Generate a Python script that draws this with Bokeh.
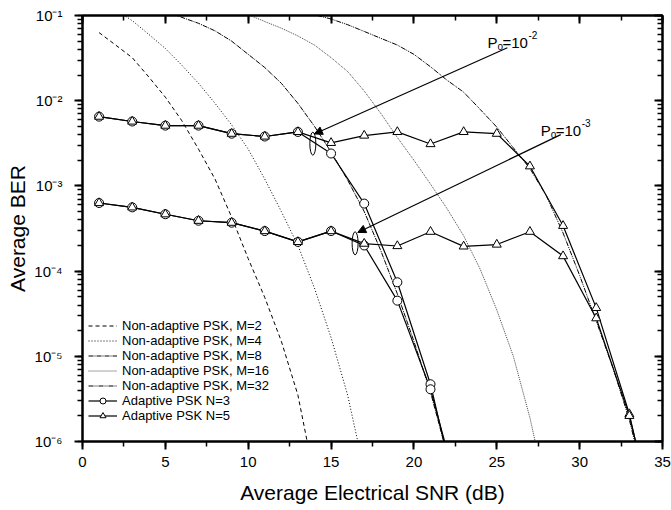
from bokeh.plotting import figure
from bokeh.models import (LinearAxis, LogAxis, SingleIntervalTicker, LogTicker, Legend,
                          LegendItem, Label, Arrow, NormalHead, Range1d, CustomJSTickFormatter,
                          Title)
from bokeh.embed import file_html
from bokeh.resources import INLINE

FONT = "Liberation Sans"

# ---------------- data ----------------
# Non-adaptive PSK curves
m2_snr = [1, 2, 3, 4, 5, 6, 7, 8, 9, 10, 11, 12, 13, 14]
m2_ber = [6.3e-2, 4.5e-2, 3.2e-2, 1.9e-2, 1.1e-2, 5.8e-3, 2.7e-3, 1.2e-3, 4.3e-4,
          1.4e-4, 4.9e-5, 1.5e-5, 3.5e-6, 3.7e-7]

m4_snr = [2, 3, 4, 5, 6, 7, 8, 9, 10, 11, 12, 13, 14, 15, 16, 17]
m4_ber = [1.17e-1, 8.7e-2, 6.0e-2, 4.1e-2, 2.6e-2, 1.6e-2, 9.3e-3, 5.2e-3, 2.7e-3,
          1.2e-3, 5.0e-4, 2.0e-4, 6.3e-5, 1.66e-5, 3.5e-6, 4.5e-7]

m8_snr = [5, 6, 7, 8, 9, 10, 11, 12, 13, 14, 15, 16, 17, 18, 19, 20, 21, 22]
m8_ber = [1.12e-1, 9.5e-2, 8.1e-2, 6.6e-2, 5.0e-2, 3.5e-2, 2.45e-2, 1.6e-2, 9.3e-3,
          5.0e-3, 2.5e-3, 1.17e-3, 5.0e-4, 1.74e-4, 5.4e-5, 1.5e-5, 3.8e-6, 7.1e-7]

m16_snr = [9, 10, 11, 12, 13, 14, 15, 16, 17, 18, 19, 20, 21, 22, 23, 24, 25, 26, 27, 28]
m16_ber = [1.17e-1, 1.02e-1, 8.5e-2, 7.1e-2, 5.75e-2, 4.5e-2, 3.2e-2, 2.2e-2, 1.3e-2,
           7.1e-3, 3.7e-3, 2.0e-3, 1.05e-3, 5.4e-4, 2.6e-4, 1.05e-4, 3.5e-5, 1.0e-5,
           1.9e-6, 2.5e-7]

m32_snr = [13, 14, 15, 16, 17, 18, 19, 20, 21, 22, 23, 24, 25, 26, 27, 28, 29, 30,
           31, 32, 33, 34]
m32_ber = [1.17e-1, 1.02e-1, 9.1e-2, 7.8e-2, 6.5e-2, 5.4e-2, 4.5e-2, 3.5e-2, 2.5e-2,
           1.74e-2, 1.26e-2, 7.9e-3, 4.9e-3, 2.8e-3, 1.6e-3, 7.6e-4, 2.8e-4, 8.9e-5,
           2.6e-5, 7.4e-6, 1.8e-6, 2.8e-7]

# Adaptive PSK, N=3
n3_snr = [1, 3, 5, 7, 9, 11, 13, 15, 17, 19, 21, 23]
n3_po2_ber = [6.5e-3, 5.7e-3, 5.1e-3, 5.1e-3, 4.1e-3, 3.8e-3, 4.3e-3, 2.4e-3, 6.2e-4,
              7.4e-5, 4.7e-6, 1.0e-7]
n3_po3_ber = [6.3e-4, 5.6e-4, 4.65e-4, 3.9e-4, 3.7e-4, 2.95e-4, 2.2e-4, 2.95e-4, 2.0e-4,
              4.5e-5, 4.1e-6, 1.5e-7]

# Adaptive PSK, N=5
n5_snr = [1, 3, 5, 7, 9, 11, 13, 15, 17, 19, 21, 23, 25, 27, 29, 31, 33, 35]
n5_po2_ber = [6.5e-3, 5.7e-3, 5.1e-3, 5.1e-3, 4.1e-3, 3.8e-3, 4.3e-3, 3.2e-3, 3.9e-3,
              4.3e-3, 3.1e-3, 4.3e-3, 4.1e-3, 1.7e-3, 3.4e-4, 3.7e-5, 2.1e-6, 4.0e-8]
n5_po3_ber = [6.3e-4, 5.6e-4, 4.65e-4, 3.9e-4, 3.7e-4, 2.95e-4, 2.2e-4, 2.95e-4, 2.1e-4,
              1.97e-4, 2.9e-4, 1.95e-4, 2.05e-4, 2.9e-4, 1.5e-4, 2.8e-5, 2.0e-6, 5.0e-8]

legend_labels = ["Non-adaptive PSK, M=2", "Non-adaptive PSK, M=4", "Non-adaptive PSK, M=8",
                 "Non-adaptive PSK, M=16", "Non-adaptive PSK, M=32",
                 "Adaptive PSK N=3", "Adaptive PSK N=5"]

x_title = "Average Electrical SNR (dB)"
y_title = "Average BER"

# annotations: ellipses, arrows, P_o labels
ell_x = [13.9, 16.45]
ell_y = [3.13e-3, 2.12e-4]
arrow_x_start = [25.64, 28.86]
arrow_y_start = [4.18e-2, 4.0e-3]
arrow_x_end = [13.99, 16.61]
arrow_y_end = [4.07e-3, 2.84e-4]
po_x = [24.44, 27.65]
po_y = [4.87e-2, 4.53e-3]
po_exp = ["-2", "-3"]

X_MIN, X_MAX = 0, 35
Y_MIN, Y_MAX = 1e-6, 1e-1

# ---------------- figure ----------------
p = figure(width=671, height=510, x_range=Range1d(X_MIN, X_MAX), y_range=Range1d(Y_MIN, Y_MAX),
           y_axis_type="log", output_backend="svg", toolbar_location=None,
           min_border_left=81, min_border_right=9, min_border_top=15, min_border_bottom=69)
p.grid.visible = False
p.outline_line_color = "black"
p.outline_line_width = 2
p.background_fill_color = "white"

blank = CustomJSTickFormatter(code="return ''")
pow10 = CustomJSTickFormatter(code="""
    const sup = {'-': '\u207b', '0': '\u2070', '1': '\u00b9', '2': '\u00b2', '3': '\u00b3',
                 '4': '\u2074', '5': '\u2075', '6': '\u2076', '7': '\u2077', '8': '\u2078',
                 '9': '\u2079'};
    const e = String(Math.round(Math.log10(tick)));
    return '10' + e.split('').map(c => sup[c]).join('');
""")


def style_axis(ax, inside):
    ax.axis_line_color = "black"
    ax.axis_line_width = 2
    ax.major_tick_line_color = "black"
    ax.major_tick_line_width = 2
    ax.minor_tick_line_color = "black"
    ax.minor_tick_line_width = 1.5
    if inside:
        ax.major_tick_in, ax.major_tick_out = 8, 0
        ax.minor_tick_in, ax.minor_tick_out = 5, 0
    else:
        ax.major_tick_in, ax.major_tick_out = 0, 8
        ax.minor_tick_in, ax.minor_tick_out = 0, 5


xa = p.xaxis[0]
xa.ticker = SingleIntervalTicker(interval=5, num_minor_ticks=2)
style_axis(xa, False)
xa.major_label_text_font = FONT
xa.major_label_text_font_size = "15px"
xa.major_label_text_color = "black"
xa.major_label_standoff = 7
xa.axis_label = x_title
xa.axis_label_text_font = FONT
xa.axis_label_text_font_size = "21px"
xa.axis_label_text_font_style = "normal"
xa.axis_label_text_color = "black"
xa.axis_label_standoff = 11

ya = p.yaxis[0]
ya.ticker = LogTicker(num_minor_ticks=10)
style_axis(ya, False)
ya.formatter = pow10
ya.major_label_text_font = FONT
ya.major_label_text_font_size = "15px"
ya.major_label_text_color = "black"
ya.major_label_standoff = 12

top = LinearAxis(ticker=SingleIntervalTicker(interval=5, num_minor_ticks=2), formatter=blank,
                 major_label_standoff=0)
style_axis(top, True)
p.add_layout(top, "above")

right = LogAxis(ticker=LogTicker(num_minor_ticks=10), formatter=blank, major_label_standoff=0)
style_axis(right, True)
p.add_layout(right, "right")

ytitle = Title(text=y_title, text_font=FONT, text_font_size="21px", text_font_style="normal",
               text_color="black", align="center", offset=20, standoff=6)
p.add_layout(ytitle, "left")

# ---------------- curves ----------------
r_m2 = p.line(m2_snr, m2_ber, line_color="black", line_width=1, line_dash="4 3")
r_m4 = p.line(m4_snr, m4_ber, line_color="black", line_width=1, line_dash="1 2")
r_m8 = p.line(m8_snr, m8_ber, line_color="black", line_width=1, line_dash="5 1 1 1")
r_m16 = p.line(m16_snr, m16_ber, line_color="#444444", line_width=1, line_dash="1 1")
r_m32 = p.line(m32_snr, m32_ber, line_color="black", line_width=1, line_dash="5 1 1 1 1 1")

r_n3a = p.line(n3_snr, n3_po2_ber, line_color="black", line_width=1.2)
r_n3b = p.line(n3_snr, n3_po3_ber, line_color="black", line_width=1.2)
r_n5a = p.line(n5_snr, n5_po2_ber, line_color="black", line_width=1.2)
r_n5b = p.line(n5_snr, n5_po3_ber, line_color="black", line_width=1.2)

s_n3a = p.scatter(n3_snr, n3_po2_ber, marker="circle", size=9, fill_color="white",
                  line_color="black", line_width=1)
s_n3b = p.scatter(n3_snr, n3_po3_ber, marker="circle", size=9, fill_color="white",
                  line_color="black", line_width=1)
s_n5a = p.scatter(n5_snr, n5_po2_ber, marker="triangle", size=9, fill_color="white",
                  line_color="black", line_width=1)
s_n5b = p.scatter(n5_snr, n5_po3_ber, marker="triangle", size=9, fill_color="white",
                  line_color="black", line_width=1)

# ---------------- legend ----------------
legend = Legend(items=[
    LegendItem(label=legend_labels[0], renderers=[r_m2]),
    LegendItem(label=legend_labels[1], renderers=[r_m4]),
    LegendItem(label=legend_labels[2], renderers=[r_m8]),
    LegendItem(label=legend_labels[3], renderers=[r_m16]),
    LegendItem(label=legend_labels[4], renderers=[r_m32]),
    LegendItem(label=legend_labels[5], renderers=[r_n3a, s_n3a]),
    LegendItem(label=legend_labels[6], renderers=[r_n5a, s_n5a]),
], location=(6, 18), orientation="vertical")
legend.label_text_font = FONT
legend.label_text_font_size = "13px"
legend.label_text_color = "black"
legend.label_standoff = 5
legend.glyph_width = 29
legend.glyph_height = 15
legend.label_height = 15
legend.spacing = 0
legend.padding = 0
legend.margin = 0
legend.border_line_color = None
legend.background_fill_alpha = 0
p.add_layout(legend)

# ---------------- annotations ----------------
p.ellipse(x=ell_x, y=ell_y, width=6, height=23, width_units="screen", height_units="screen",
          fill_color=None, line_color="black", line_width=1)

for xs, ys, xe, ye in zip(arrow_x_start, arrow_y_start, arrow_x_end, arrow_y_end):
    p.add_layout(Arrow(end=NormalHead(size=8, fill_color="black", line_color="black", line_width=1),
                       x_start=xs, y_start=ys, x_end=xe, y_end=ye,
                       line_color="black", line_width=1.2))

for x, y, e in zip(po_x, po_y, po_exp):
    common = dict(x=x, y=y, text_font=FONT, text_color="black", text_baseline="alphabetic")
    p.add_layout(Label(text="P", text_font_size="15px", **common))
    p.add_layout(Label(text="o", text_font_size="10px", x_offset=10, y_offset=-4, **common))
    p.add_layout(Label(text="=10", text_font_size="15px", x_offset=15, **common))
    p.add_layout(Label(text=e, text_font_size="10px", x_offset=41, y_offset=7, **common))

open("out.html", "w").write(file_html(p, INLINE))
